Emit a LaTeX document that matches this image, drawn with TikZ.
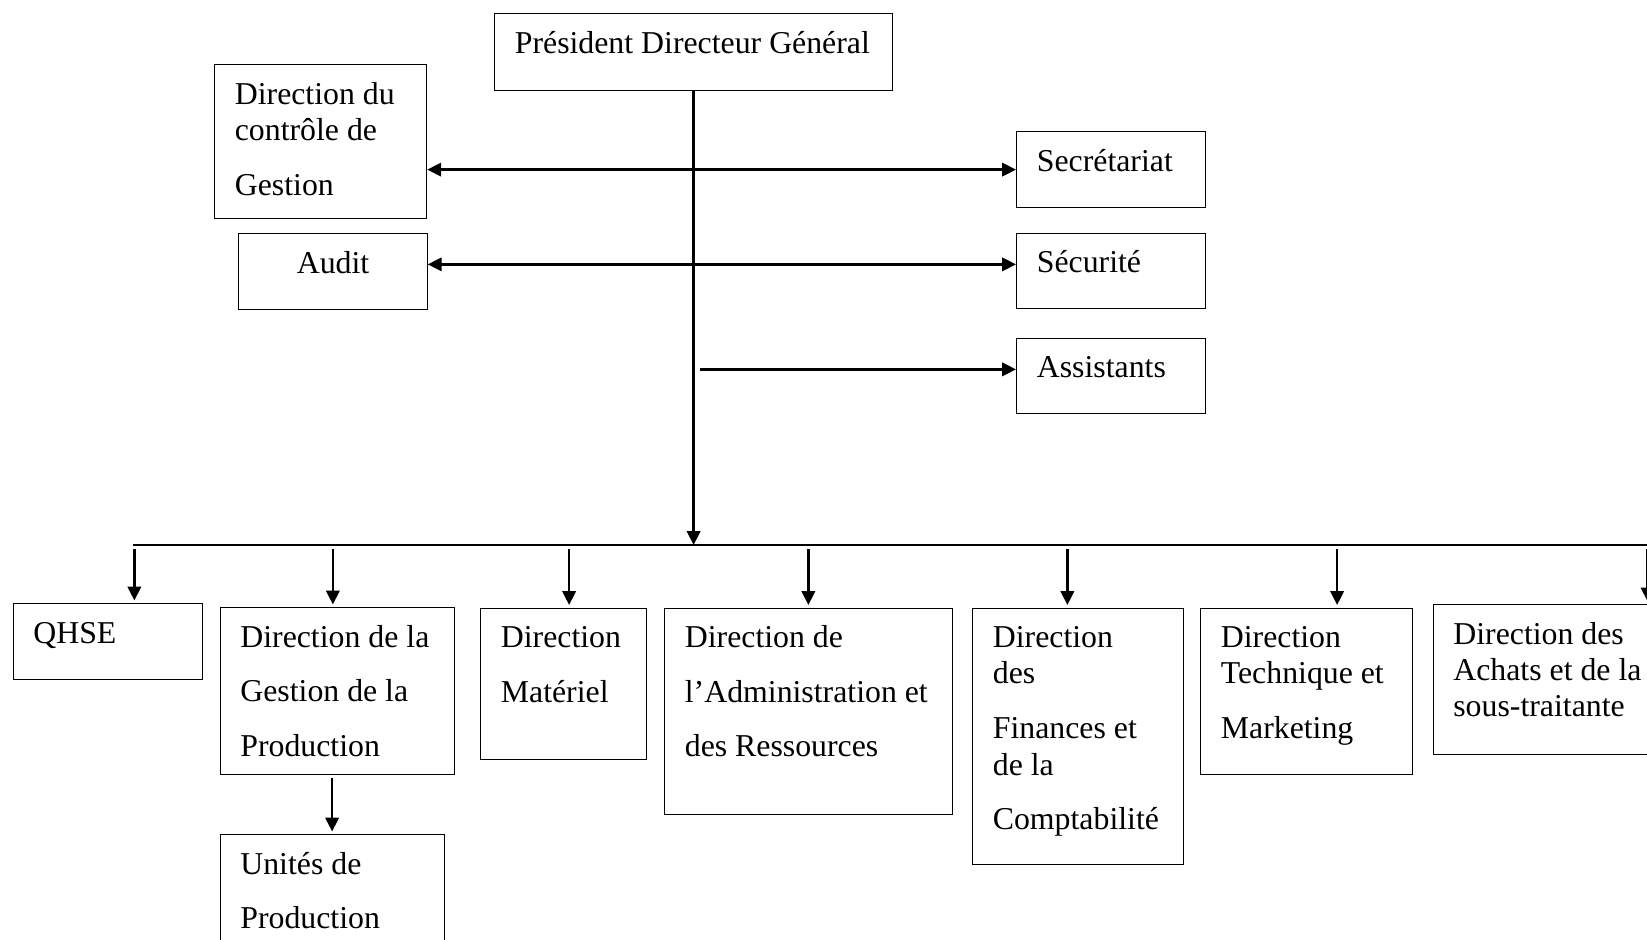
\documentclass[tikz,border=0pt]{standalone}
\usepackage{fontspec}
\setmainfont{Liberation Serif}
\usetikzlibrary{arrows.meta}

% texte aligne sur la premiere ligne
\newcommand{\lignes}[1]{\begin{tabular}[t]{@{}l@{}}#1\end{tabular}}

\tikzset{
  poste/.style={draw, line width=0.7pt, anchor=north west, inner sep=0pt},
  intitule/.style={anchor=base west, inner sep=0pt, xshift=0.41cm, yshift=-0.80cm,
    font=\fontsize{18.1}{20.75}\selectfont},
  fleche/.style={-{Triangle[length=0.28cm,width=0.27cm]}, line width=1.3pt},
  double fleche/.style={{Triangle[length=0.28cm,width=0.27cm]}-{Triangle[length=0.28cm,width=0.27cm]}, line width=1.3pt}
}

\begin{document}
\begin{tikzpicture}
  \useasboundingbox (0,0) rectangle (32.94,-18.78);
  % direction generale
  \node[poste, minimum width=7.96cm, minimum height=1.54cm,
    label={[intitule]north west:Président Directeur Général}] (pdg) at (9.88,-0.26) {};
  % services rattaches
  \node[poste, minimum width=4.24cm, minimum height=3.08cm,
    label={[intitule]north west:{\lignes{Direction du\\contrôle de\\[10.4pt]Gestion}}}] (controle) at (4.28,-1.28) {};
  \node[poste, minimum width=3.78cm, minimum height=1.52cm,
    label={[intitule, xshift=0.77cm]north west:Audit}] (audit) at (4.75,-4.66) {};
  \node[poste, minimum width=3.78cm, minimum height=1.52cm,
    label={[intitule]north west:Secrétariat}] (secretariat) at (20.32,-2.62) {};
  \node[poste, minimum width=3.78cm, minimum height=1.51cm,
    label={[intitule]north west:Sécurité}] (securite) at (20.32,-4.65) {};
  \node[poste, minimum width=3.78cm, minimum height=1.51cm,
    label={[intitule]north west:Assistants}] (assistants) at (20.32,-6.75) {};
  % directions
  \node[poste, minimum width=3.79cm, minimum height=1.52cm,
    label={[intitule]north west:QHSE}] (qhse) at (0.25,-12.06) {};
  \node[poste, minimum width=4.69cm, minimum height=3.33cm,
    label={[intitule]north west:{\lignes{Direction de la\\[10.4pt]Gestion de la\\[10.4pt]Production}}}] (dgp) at (4.39,-12.14) {};
  \node[poste, minimum width=3.32cm, minimum height=3.03cm,
    label={[intitule]north west:{\lignes{Direction\\[10.4pt]Matériel}}}] (materiel) at (9.60,-12.15) {};
  \node[poste, minimum width=5.75cm, minimum height=4.12cm,
    label={[intitule]north west:{\lignes{Direction de\\[10.4pt]l’Administration et\\[10.4pt]des Ressources}}}] (admin) at (13.28,-12.15) {};
  \node[poste, minimum width=4.21cm, minimum height=5.12cm,
    label={[intitule]north west:{\lignes{Direction\\des\\[10.4pt]Finances et\\de la\\[10.4pt]Comptabilité}}}] (finances) at (19.44,-12.15) {};
  \node[poste, minimum width=4.24cm, minimum height=3.33cm,
    label={[intitule]north west:{\lignes{Direction\\Technique et\\[10.4pt]Marketing}}}] (technique) at (24.00,-12.15) {};
  \node[poste, minimum width=5.00cm, minimum height=3.00cm,
    label={[intitule]north west:{\lignes{Direction des\\Achats et de la\\sous-traitante}}}] (achats) at (28.65,-12.08) {};
  \node[poste, minimum width=4.48cm, minimum height=2.60cm,
    label={[intitule]north west:{\lignes{Unités de\\[10.4pt]Production}}}] (unites) at (4.39,-16.68) {};
  % liaisons
  \coordinate (bus) at (2.66,-10.90);
  \coordinate (busfin) at (33.20,-10.90);
  \draw[line width=0.75pt] (bus) -- (busfin);
  \draw[fleche] (pdg.south) -- (pdg.south |- bus);
  \draw[double fleche] (secretariat.west -| controle.east) -- (secretariat.west);
  \coordinate (s2) at ([yshift=0.13cm]securite.west);
  \draw[double fleche] (s2 -| audit.east) -- (s2);
  \coordinate (a1) at ([xshift=0.12cm]pdg.south);
  \coordinate (a2) at ([yshift=0.13cm]assistants.west);
  \draw[fleche] (a2 -| a1) -- (a2);
  \foreach \poste/\dx in {qhse/0.53, dgp/-0.09, materiel/0.11, admin/0, finances/-0.21, technique/0.61, achats/1.79} {
    \coordinate (d\poste) at ([xshift=\dx cm]\poste.north);
    \draw[fleche, shorten <=0.08cm, shorten >=0.05cm] (bus -| d\poste) -- (d\poste);
  }
  \draw[fleche, shorten <=0.06cm, shorten >=0.05cm] (unites.north |- dgp.south) -- (unites.north);
\end{tikzpicture}
\end{document}
